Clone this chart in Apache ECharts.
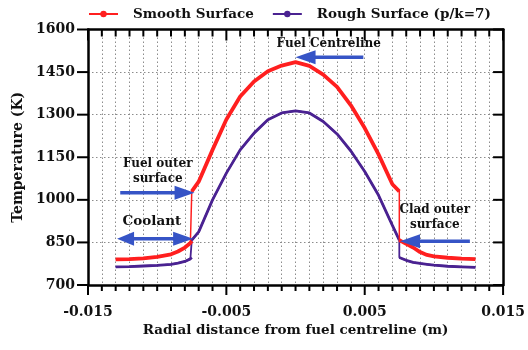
<!DOCTYPE html>
<html>
<head>
<meta charset="utf-8">
<script src="https://cdn.jsdelivr.net/npm/echarts@6/dist/echarts.min.js"></script>
<style>
  html, body { margin: 0; padding: 0; background: #fff; }
  #chart { width: 528px; height: 350px; }
</style>
</head>
<body>
<div id="chart"></div>
<script>
// Radial temperature profiles across fuel, clad and coolant
const smoothX = [-0.013, -0.012, -0.011, -0.010, -0.009, -0.0085, -0.008, -0.0076, -0.0075, -0.0075,
  -0.007, -0.006, -0.005, -0.004, -0.003, -0.002, -0.001, 0, 0.001, 0.002, 0.003, 0.004, 0.005,
  0.006, 0.007, 0.0075, 0.0075, 0.008, 0.0085, 0.009, 0.0095, 0.010, 0.011, 0.012, 0.013];
const smoothT = [790, 791, 794, 799, 808, 818, 832, 848, 855, 1030,
  1064, 1176, 1283, 1364, 1417, 1453, 1473, 1485, 1472, 1441, 1398, 1333, 1253,
  1160, 1055, 1030, 858, 845, 832, 816, 806, 801, 796, 793, 791];

const roughX = [-0.013, -0.012, -0.011, -0.010, -0.009, -0.0085, -0.008, -0.0076, -0.0075, -0.0075,
  -0.007, -0.006, -0.005, -0.004, -0.003, -0.002, -0.001, 0, 0.001, 0.002, 0.003, 0.004, 0.005,
  0.006, 0.007, 0.0075, 0.0075, 0.008, 0.0085, 0.009, 0.0095, 0.010, 0.011, 0.012, 0.013];
const roughT = [764, 765, 767, 769, 773, 777, 783, 792, 797, 858,
  887, 1000, 1094, 1176, 1235, 1282, 1306, 1313, 1306, 1276, 1232, 1172, 1100,
  1016, 910, 858, 797, 787, 780, 776, 773, 770, 766, 764, 762];

const seriesNames = ['Smooth Surface', 'Rough Surface (p/k=7)'];
const xAxisName = 'Radial distance from fuel centreline (m)';
const yAxisName = 'Temperature (K)';

// Axis ranges: labelled x steps of 0.01 with fine steps of 0.001
const xMin = -0.015, xMax = 0.015, xMajor = 0.01, xFine = 0.001;
const yMin = 700, yMax = 1600, yStep = 150;

// Callout arrows: start x, start T, tip x, tip T, number of heads
const arrowStartX = [0.0049, -0.01267, -0.0129, 0.0126];
const arrowStartT = [1502, 1025, 863, 854];
const arrowEndX = [0.0, -0.0073, -0.0074, 0.00755];
const arrowEndT = [1502, 1025, 863, 854];
const arrowHeads = [1, 1, 2, 1];

// Callout texts
const noteTexts = ['Fuel Centreline', 'Fuel outer\nsurface', 'Coolant', 'Clad outer\nsurface'];
const noteX = [0.0024, -0.00996, -0.01038, 0.01006];
const noteT = [1551, 1101, 922, 938];
const noteSizes = [12, 12, 13.5, 12];

const FONT = 'DejaVu Serif';
const RED = '#ff1f1f';
const PURPLE = '#4a2291';
const BLUE = '#3654c6';
const INK = '#111111';

function pairs(xs, ys) { return xs.map((x, i) => [x, ys[i]]); }
// break the thick stroke at the vertical steps so those stay thin
function broken(xs, ys) {
  const out = [];
  xs.forEach((x, i) => {
    if (i > 0 && xs[i - 1] === x) out.push([x, null]);
    out.push([x, ys[i]]);
  });
  return out;
}

const dotted = { color: '#8c8c8c', width: 1, type: [1.5, 2.5] };
function spine() { return { show: true, onZero: false, lineStyle: { color: '#000', width: 2.5 } }; }

// tick marks on the frame: [x, y, kind] with kind 0 = x tick, 1 = y tick
const tickData = [];
for (let k = Math.round(xMin / xFine); k <= Math.round(xMax / xFine); k++) tickData.push([k * xFine, yMin, 0]);
for (let v = yMin; v <= yMax; v += yStep) tickData.push([xMin, v, 1]);

const chart = echarts.init(document.getElementById('chart'), null, { renderer: 'canvas' });

const arrowData = arrowStartX.map((x, i) => [x, arrowStartT[i], arrowEndX[i], arrowEndT[i], arrowHeads[i]]);
const noteData = noteX.map((x, i) => [x, noteT[i], i]);

function head(tip, ux, uy, len, half) {
  const bx = tip[0] - ux * len, by = tip[1] - uy * len;
  return {
    type: 'polygon',
    shape: { points: [[tip[0], tip[1]], [bx - uy * half, by + ux * half], [bx + uy * half, by - ux * half]] },
    style: { fill: BLUE }
  };
}
function seg(x1, y1, x2, y2) {
  return { type: 'line', shape: { x1: x1, y1: y1, x2: x2, y2: y2 }, style: { stroke: '#000', lineWidth: 2 } };
}

const labelFont = { fontFamily: FONT, fontWeight: 'bold', fontSize: 14, color: INK };

chart.setOption({
  animation: false,
  backgroundColor: '#fff',
  grid: { left: 88, right: 23, top: 29.5, bottom: 65 },
  legend: {
    data: seriesNames,
    left: 83,
    top: 2,
    itemWidth: 29,
    itemHeight: 8,
    itemGap: 18,
    textStyle: { fontFamily: FONT, fontWeight: 'bold', fontSize: 13.5, color: INK, padding: [0, 0, 0, 10] }
  },
  xAxis: [
    {
      type: 'value', position: 'bottom', min: xMin, max: xMax, interval: xMajor,
      axisLine: spine(),
      axisTick: { show: false },
      splitLine: { show: false },
      axisLabel: Object.assign({ margin: 20, formatter: v => v.toFixed(3) }, labelFont),
      name: xAxisName, nameLocation: 'middle', nameGap: 38,
      nameTextStyle: { fontFamily: FONT, fontWeight: 'bold', fontSize: 13.5, color: INK }
    },
    {
      type: 'value', position: 'bottom', min: xMin, max: xMax, interval: xFine,
      axisLine: { show: false, onZero: false }, axisTick: { show: false },
      splitLine: { show: true, lineStyle: dotted }, axisLabel: { show: false }
    },
    {
      type: 'value', position: 'top', min: xMin, max: xMax, interval: xMajor,
      axisLine: spine(), axisTick: { show: false },
      splitLine: { show: false }, axisLabel: { show: false }
    }
  ],
  yAxis: [
    {
      type: 'value', position: 'left', min: yMin, max: yMax, interval: yStep,
      axisLine: spine(),
      axisTick: { show: false },
      splitLine: { show: true, lineStyle: dotted },
      axisLabel: Object.assign({ margin: 13, formatter: v => String(v) }, labelFont),
      name: yAxisName, nameLocation: 'middle', nameGap: 54,
      nameTextStyle: { fontFamily: FONT, fontWeight: 'bold', fontSize: 14, color: INK }
    },
    {
      type: 'value', position: 'right', min: yMin, max: yMax, interval: yStep,
      axisLine: spine(), axisTick: { show: false },
      splitLine: { show: false }, axisLabel: { show: false }
    }
  ],
  series: [
    {
      name: seriesNames[0], type: 'line', data: pairs(smoothX, smoothT),
      symbol: 'circle', symbolSize: 4, showSymbol: false,
      lineStyle: { color: RED, width: 1.5 }, itemStyle: { color: RED }, z: 3
    },
    {
      name: seriesNames[0], type: 'line', data: broken(smoothX, smoothT),
      symbol: 'none', connectNulls: false,
      lineStyle: { color: RED, width: 3.8 }, itemStyle: { color: RED }, z: 3
    },
    {
      name: seriesNames[1], type: 'line', data: pairs(roughX, roughT),
      symbol: 'circle', symbolSize: 4, showSymbol: false,
      lineStyle: { color: PURPLE, width: 1.8 }, itemStyle: { color: PURPLE }, z: 2
    },
    {
      name: seriesNames[1], type: 'line', data: broken(roughX, roughT),
      symbol: 'none', connectNulls: false,
      lineStyle: { color: PURPLE, width: 2.8 }, itemStyle: { color: PURPLE }, z: 2
    },
    {
      type: 'custom', name: 'ticks', silent: true, z: 4, clip: false,
      data: tickData,
      renderItem: function (params, api) {
        const v = api.value(0), t = api.value(1), kind = api.value(2);
        if (kind === 0) {
          const major = Math.abs(Math.round(v / xFine)) % 10 === 5;
          const b = api.coord([v, yMin]), tp = api.coord([v, yMax]);
          return { type: 'group', children: [
            seg(b[0], b[1], b[0], b[1] + (major ? 10 : 6)),
            seg(tp[0], tp[1], tp[0], tp[1] + (major ? 11 : 7))
          ] };
        }
        const l = api.coord([xMin, t]), r = api.coord([xMax, t]);
        return { type: 'group', children: [
          seg(l[0] - 11, l[1], l[0], l[1]),
          seg(r[0] - 10, r[1], r[0], r[1])
        ] };
      }
    },
    {
      type: 'custom', name: 'arrows', silent: true, z: 5,
      data: arrowData,
      encode: { x: [0, 2], y: [1, 3] },
      renderItem: function (params, api) {
        const a = api.coord([api.value(0), api.value(1)]);
        const b = api.coord([api.value(2), api.value(3)]);
        const both = api.value(4) === 2;
        const dx = b[0] - a[0], dy = b[1] - a[1];
        const len = Math.hypot(dx, dy);
        const ux = dx / len, uy = dy / len;
        const HL = 20, HW = 7;
        const start = both ? [a[0] + ux * HL * 0.8, a[1] + uy * HL * 0.8] : a;
        const end = [b[0] - ux * HL * 0.8, b[1] - uy * HL * 0.8];
        const children = [
          { type: 'line', shape: { x1: start[0], y1: start[1], x2: end[0], y2: end[1] },
            style: { stroke: BLUE, lineWidth: 3.5 } },
          head(b, ux, uy, HL, HW)
        ];
        if (both) children.push(head(a, -ux, -uy, HL * 0.85, HW));
        return { type: 'group', children: children };
      }
    },
    {
      type: 'custom', name: 'notes', silent: true, z: 6,
      data: noteData,
      renderItem: function (params, api) {
        const p = api.coord([api.value(0), api.value(1)]);
        const i = api.value(2);
        return {
          type: 'text', x: p[0], y: p[1],
          style: {
            text: noteTexts[i], fill: INK, align: 'center', verticalAlign: 'middle',
            font: 'bold ' + noteSizes[i] + 'px "' + FONT + '"', lineHeight: 15
          }
        };
      }
    }
  ]
});
</script>
</body>
</html>
